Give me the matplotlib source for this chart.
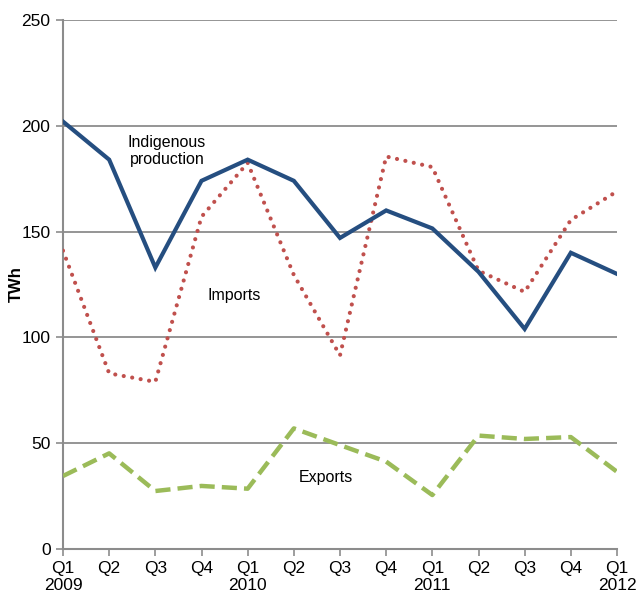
import numpy as np
import matplotlib
matplotlib.use("Agg")
import matplotlib.pyplot as plt

plt.rcParams['font.family'] = ['Liberation Sans', 'DejaVu Sans']

quarters = ["Q1\n2009", "Q2", "Q3", "Q4", "Q1\n2010", "Q2", "Q3", "Q4",
            "Q1\n2011", "Q2", "Q3", "Q4", "Q1\n2012"]
indigenous = [202, 184, 133, 174, 184, 174, 147, 160, 151.5, 131, 104, 140, 130]
imports = [141, 83, 79, 157, 182.5, 129.5, 91.5, 185.5, 180.5, 131.5, 121.5, 155.5, 169]
exports = [34.5, 45.2, 27.4, 29.8, 28.5, 57, 49.1, 41.3, 25.5, 53.6, 52, 52.9, 36.5]

NAVY = "#254E80"
RED = "#C0504D"
GREEN = "#9BBB59"
GRID = "#8C8C8C"

fig = plt.figure(figsize=(6.37, 5.94), dpi=100)
ax = fig.add_axes([63 / 637, 45 / 594, 554 / 637, 529 / 594])

x = np.arange(len(quarters))

ax.plot(x, indigenous, color=NAVY, lw=3.0, solid_joinstyle='miter', zorder=4)
ax.plot(x, imports, color=RED, lw=3.0, linestyle=(0, (0.01, 2.05)),
        dash_capstyle='round', zorder=3)
ax.plot(x, exports, color=GREEN, lw=3.2, linestyle=(0, (3.4, 1.6)),
        dash_capstyle='butt', zorder=3)

ax.set_xlim(0, len(quarters) - 1)
ax.set_ylim(0, 250)
ax.set_yticks(np.arange(0, 251, 50))
ax.set_xticks(x)
ax.set_xticklabels(quarters, fontsize=12.5, linespacing=1.15)
ax.tick_params(axis='y', labelsize=12.5, length=5, width=1.2, color=GRID, pad=4)
ax.tick_params(axis='x', length=5, width=1.2, color=GRID, pad=4)

ax.grid(axis='y', color=GRID, lw=1.3, zorder=1)
ax.set_axisbelow(True)
for side in ('top', 'right'):
    ax.spines[side].set_visible(False)
for side in ('left', 'bottom'):
    ax.spines[side].set_color(GRID)
    ax.spines[side].set_linewidth(1.5)

ax.set_ylabel("TWh", fontsize=12, fontweight='bold')
ax.yaxis.set_label_coords(-0.071, 0.5)

ax.text(2.25, 188, "Indigenous\nproduction", fontsize=11.5, ha='center',
        va='center', linespacing=1.15)
ax.text(3.7, 120, "Imports", fontsize=11.5, ha='center', va='center')
ax.text(5.7, 34, "Exports", fontsize=11.5, ha='center', va='center')

fig.savefig("out.png", dpi=100)
